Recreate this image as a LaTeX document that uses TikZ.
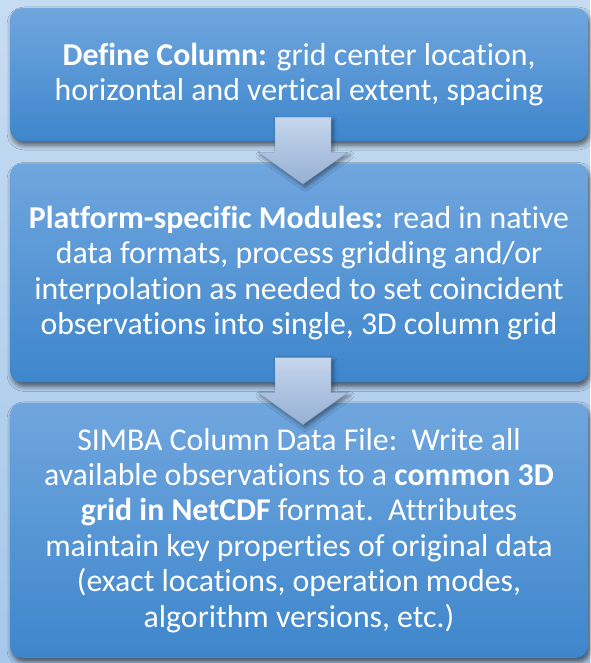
\documentclass[tikz,border=0pt]{standalone}
\usepackage{fontspec}
\setmainfont[Ligatures={NoCommon}]{Carlito}
\usetikzlibrary{positioning,calc,shadows.blur}
\definecolor{bgtop}{RGB}{198,220,242}
\definecolor{bgbot}{RGB}{166,200,235}
\definecolor{boxtop}{RGB}{112,166,222}
\definecolor{boxbot}{RGB}{62,134,204}
\definecolor{arrtop}{RGB}{198,214,236}
\definecolor{arrbot}{RGB}{150,176,212}
\tikzset{
  stagebox/.style={rounded corners=12pt, top color=boxtop, bottom color=boxbot,
    text=white, align=center, minimum width=578pt, inner sep=0pt,
    font=\fontsize{31.8}{35.4}\selectfont,
    blur shadow={shadow xshift=2pt, shadow yshift=-4pt, shadow blur radius=5pt, shadow opacity=60}},
  flowarrow/.style={top color=arrtop, bottom color=arrbot, draw=arrbot!85!black, line width=0.3pt,
    blur shadow={shadow xshift=2pt, shadow yshift=-3pt, shadow blur radius=4pt, shadow opacity=45}}
}
\begin{document}
\begin{tikzpicture}[x=1pt,y=-1pt]
\useasboundingbox (0,0) rectangle (590,663);
\fill[top color=bgtop, bottom color=bgbot] (0,0) rectangle (590,663);
% the three stages, top to bottom
\node[stagebox, minimum height=133pt] (define) at (299,74.5)
  {\textbf{Define Column:} grid center location,\\ horizontal and vertical extent, spacing};
\node[stagebox, minimum height=219pt, below=22pt of define] (modules)
  {\textbf{Platform-specific Modules:} read in native\\ data formats, process gridding and/or\\
   interpolation as needed to set coincident\\ observations into single, 3D column grid};
\node[stagebox, minimum height=255pt, below=20pt of modules] (datafile)
  {SIMBA Column Data File:\ \ Write all\\ available observations to a \textbf{common 3D}\\
   \textbf{grid in NetCDF} format.\ \ Attributes\\ maintain key properties of original data\\
   (exact locations, operation modes,\\ algorithm versions, etc.)};
\foreach \a/\b in {define/modules, modules/datafile} % edit here for the block arrows
{
  \coordinate (m) at ($(\a.south)!0.5!(\b.north)+(4,0)$);
  \path[flowarrow] ($(m)+(-28,-35)$) -- ($(m)+(28,-35)$) -- ($(m)+(28,0)$) -- ($(m)+(45,0)$)
    -- ($(m)+(0,32)$) -- ($(m)+(-45,0)$) -- ($(m)+(-28,0)$) -- cycle;
}
\end{tikzpicture}
\end{document}
